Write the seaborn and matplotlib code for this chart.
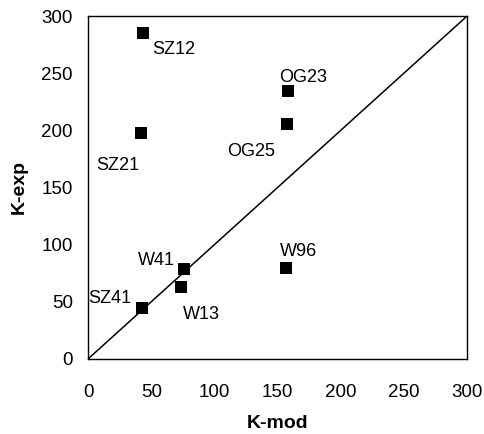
import matplotlib
matplotlib.use("Agg")
import matplotlib.pyplot as plt
import seaborn as sns
import pandas as pd

sns.set_theme(style="white")
plt.rcParams['font.family'] = ['Liberation Sans', 'DejaVu Sans']

names = ["SZ12", "SZ21", "OG23", "OG25", "W96", "W41", "W13", "SZ41"]
k_mod = [43.5, 42, 158, 157.6, 156.8, 76, 73.6, 42.8]
k_exp = [285, 198, 234.5, 205.6, 79.6, 78.7, 63, 44.6]
# label offsets in points (dx, dy)
label_dx = [22, -17, 11, -26, 9, -20, 15, -23]
label_dy = [-12, -24, 10, -20, 12, 6, -20, 7]

df = pd.DataFrame({"K-mod": k_mod, "K-exp": k_exp, "name": names})

fig = plt.figure(figsize=(4.84, 4.34), dpi=100)
ax = fig.add_axes([0.182, 0.173, 0.783, 0.790])

ax.plot([0, 300], [0, 300], color="black", lw=1.1, zorder=1)
sns.scatterplot(data=df, x="K-mod", y="K-exp", marker="s", s=85, color="black",
                edgecolor="black", linewidth=0, ax=ax, zorder=3)

for n, x, y, dx, dy in zip(names, k_mod, k_exp, label_dx, label_dy):
    ax.annotate(n, (x, y), xytext=(dx, dy), textcoords="offset points",
                ha="center", va="center", fontsize=13, color="black")

ax.set_xlim(0, 300)
ax.set_ylim(0, 300)
ax.set_xticks(range(0, 301, 50))
ax.set_yticks(range(0, 301, 50))
ax.tick_params(direction="in", length=4, width=0.8, labelsize=13.5, colors="black")
ax.tick_params(axis="x", pad=18)
ax.tick_params(axis="y", pad=11)
for sp in ax.spines.values():
    sp.set_color("black")
    sp.set_linewidth(1.0)
ax.set_xlabel("K-mod", fontsize=14, fontweight="bold", labelpad=10, color="black")
ax.set_ylabel("K-exp", fontsize=14, fontweight="bold", labelpad=10, color="black")

fig.savefig("out.png", dpi=100)
